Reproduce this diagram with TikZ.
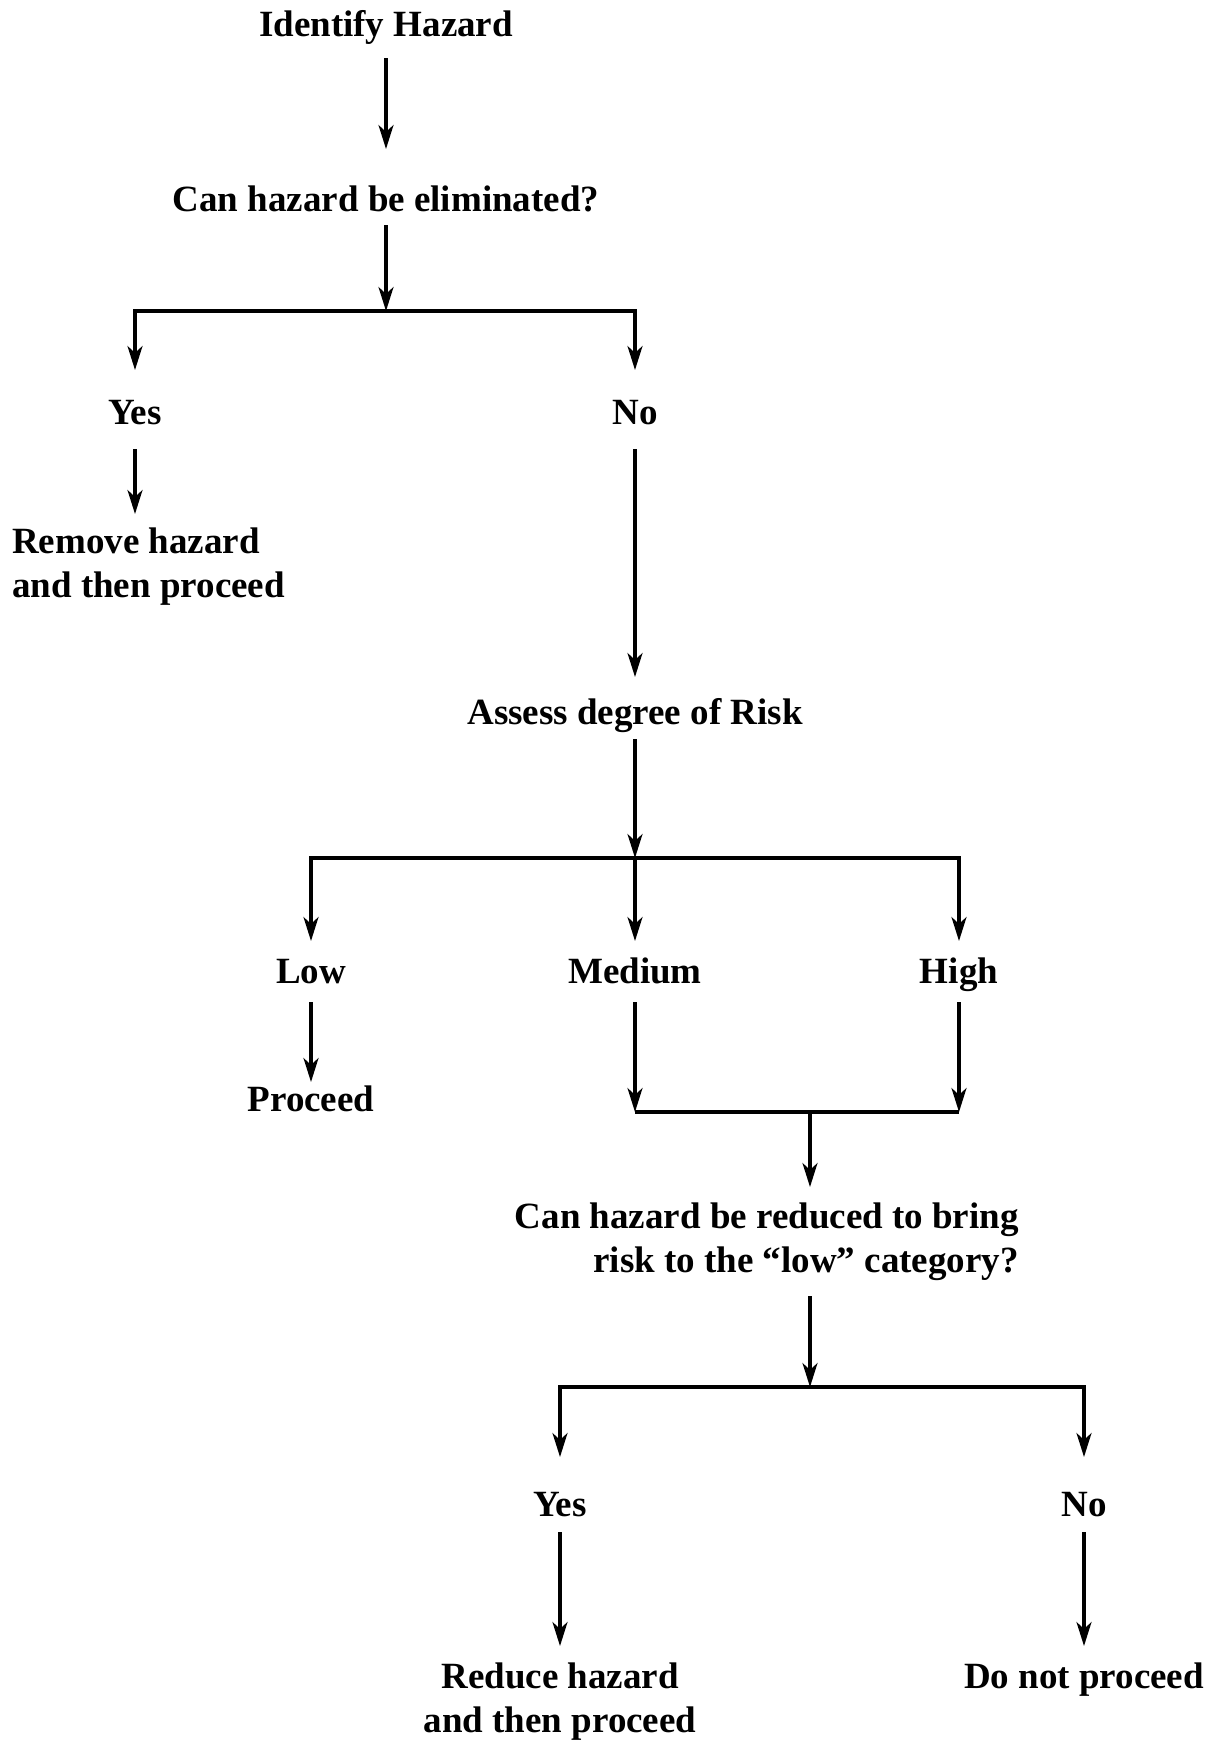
\documentclass[tikz,border=0pt]{standalone}
\usepackage{fontspec}
\setmainfont{Liberation Serif}
\usetikzlibrary{arrows.meta,calc}
\begin{document}
\begin{tikzpicture}[x=1pt,y=-1pt,
  lbl/.style={font=\fontsize{37}{44}\selectfont\bfseries, inner sep=0pt, anchor=base},
  multi/.style={font=\fontsize{37}{44}\selectfont\bfseries, inner sep=0pt},
  conn/.style={line width=3.2pt},
  arr/.style={conn, -{Stealth[length=24pt,width=15pt,inset=7pt]}},
]
\useasboundingbox (0,0) rectangle (1224,1740);

\node[lbl] (ih) at (386,36) {Identify Hazard};
\node[lbl] (ce) at (386,211) {Can hazard be eliminated?};
\coordinate (b1) at (386,311);
\node[lbl] (y1) at (135,424) {Yes};
\node[lbl] (n1) at (635,424) {No};
\node[multi, anchor=north west, align=left] (rh) at (12,528) {Remove hazard\\and then proceed};
\node[lbl] (ar) at (635,724) {Assess degree of Risk};
\coordinate (b2) at (635,858);
\node[lbl] (lo) at (311,983) {Low};
\node[lbl] (me) at (635,983) {Medium};
\node[lbl] (hi) at (959,983) {High};
\node[lbl] (pr) at (311,1111) {Proceed};
\coordinate (b3l) at (635,1112);
\coordinate (b3r) at (959,1112);
\coordinate (b3) at (810,1112);
\node[multi, anchor=north east, align=right] (cr) at (1019,1203) {Can hazard be reduced to bring\\risk to the “low” category?};
\coordinate (b4) at (810,1387);
\node[lbl] (y2) at (560,1516) {Yes};
\node[lbl] (n2) at (1084,1516) {No};
\node[multi, anchor=north, align=center] (rd) at (560,1663) {Reduce hazard\\and then proceed};
\node[lbl] (dn) at (1084,1688) {Do not proceed};

\draw[arr] ($(ih.base)+(0,22)$) -- ($(ce.base)+(0,-62)$);
\draw[arr] ($(ce.base)+(0,14)$) -- (b1);
\draw[arr] (b1) -| ($(y1.base)+(0,-54)$);
\draw[arr] (b1) -| ($(n1.base)+(0,-54)$);
\draw[arr] ($(y1.base)+(0,25)$) -- ($(y1.base |- rh.north)+(0,-14)$);
\draw[arr] ($(n1.base)+(0,25)$) -- ($(ar.base)+(0,-47)$);
\draw[arr] ($(ar.base)+(0,15)$) -- (b2);
\draw[arr] (b2) -| ($(lo.base)+(0,-42)$);
\draw[arr] (b2) -| ($(hi.base)+(0,-42)$);
\draw[arr] (b2) -- ($(me.base)+(0,-42)$);
\draw[arr] ($(lo.base)+(0,19)$) -- ($(pr.base)+(0,-29)$);
\draw[arr] ($(me.base)+(0,19)$) -- (b3l);
\draw[arr] ($(hi.base)+(0,19)$) -- (b3r);
\draw[conn] (b3l) -- (b3r);
\draw[arr] (b3) -- ($(b3 |- cr.north)+(0,-16)$);
\draw[arr] ($(b4 |- cr.south)+(0,15)$) -- (b4);
\draw[arr] (b4) -| ($(y2.base)+(0,-59)$);
\draw[arr] (b4) -| ($(n2.base)+(0,-59)$);
\draw[arr] ($(y2.base)+(0,16)$) -- ($(rd.north)+(0,-17)$);
\draw[arr] ($(n2.base)+(0,16)$) -- ($(dn.base)+(0,-42)$);
\end{tikzpicture}
\end{document}
